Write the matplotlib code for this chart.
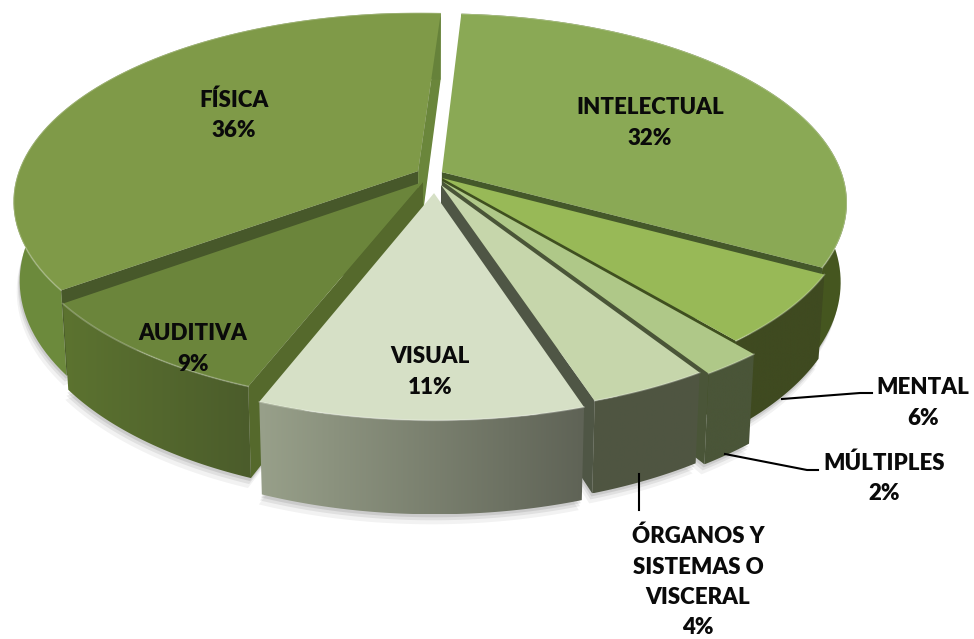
import matplotlib
matplotlib.use("Agg")

import matplotlib.pyplot as plt
from matplotlib.colors import LinearSegmentedColormap
from matplotlib.patches import Polygon
import numpy as np

# Data, clockwise from the top
labels = ["INTELECTUAL", "MENTAL", "MÚLTIPLES", "ÓRGANOS Y\nSISTEMAS O\nVISCERAL", "VISUAL", "AUDITIVA", "FÍSICA"]
values = [32, 6, 2, 4, 11, 9, 36]

# How far each slice is pulled out (pixels at the pie centre) and its radius factor
shift_x = [12, 12, 12, 11, 4, -7, -12]
shift_y = [-10, -4, -1, 3, 11, 0, -11]
radius = [1, 1, 1.05, 1.02, 1, 1, 1]

# Colours per slice
top_colors = ["#8aa955", "#98b957", "#afc888", "#c6d6ab", "#d6e0c6", "#6b853b", "#7f9a48"]
side_left = ["#4d6026", "#3f4a20", "#4a5538", "#4f5642", "#98a08a", "#5c7330", "#6d8b3d"]
side_right = ["#45561f", "#3f4a20", "#4a5538", "#4f5541", "#5f6356", "#4b5c2b", "#66823a"]
wall_start = ["#6a863b", "#3f4f1f", "#3f4f1f", "#4a5a30", "#55692c", "#55692c", "#47582a"]
wall_end = ["#44582a", "#3f4f1f", "#4a5538", "#4f5645", "#4f5645", "#47582a", "#6a863b"]

# Projection of the tilted pie
cx, cy = 430, 182
rx, ry = 403, 187
persp = 0.16
depth = 78
start_deg = 3.5


def project(x, y, z=0.0):
    s = 1 / (1 + persp * y)
    return cx + rx * x * s * (1 - 0.015 * z), cy - ry * y * s + depth * z * s


def gradient_patch(ax, verts, left, right, zorder):
    verts = np.array(verts)
    cmap = LinearSegmentedColormap.from_list("g", [left, right])
    img = ax.imshow(np.linspace(0, 1, 256).reshape(1, -1), cmap=cmap, aspect="auto",
                    extent=(verts[:, 0].min(), verts[:, 0].max(), verts[:, 1].max(), verts[:, 1].min()),
                    zorder=zorder)
    clip = Polygon(verts, closed=True, transform=ax.transData, facecolor="none", edgecolor="none")
    ax.add_patch(clip)
    img.set_clip_path(clip)


fig = plt.figure(figsize=(9.74, 6.39), dpi=100)
ax = fig.add_axes([0, 0, 1, 1])

fracs = np.array(values) / sum(values)
edges = np.radians(start_deg + 360 * np.concatenate([[0], np.cumsum(fracs)]))

# back slices first
order = [6, 0, 1, 5, 2, 3, 4]
z = 2
for i in order:
    t = np.linspace(edges[i], edges[i + 1], 80)
    ox, oy = shift_x[i] / rx, -shift_y[i] / ry
    xs, ys = ox + radius[i] * np.sin(t), oy + radius[i] * np.cos(t)

    tip_top = project(ox, oy, 0)
    tip_bot = project(ox, oy, 1)
    arc_top = [project(a, b, 0) for a, b in zip(xs, ys)]
    arc_bot = [project(a, b, 1) for a, b in zip(xs, ys)]

    # soft shadow under the slice
    for grow, alpha in [(10, 0.05), (6, 0.07), (3, 0.09)]:
        shadow = [(p[0] - grow * 0.3, p[1] + grow) for p in arc_bot]
        ax.add_patch(Polygon(shadow + [tip_bot], closed=True, facecolor="#000000",
                             edgecolor="none", alpha=alpha, zorder=1))

    # cut faces, only the ones that look towards the viewer
    if np.sin(t[0]) < 0:
        ax.add_patch(Polygon([tip_top, arc_top[0], arc_bot[0], tip_bot], closed=True,
                             facecolor=wall_start[i], edgecolor="none", zorder=z))
    if np.sin(t[-1]) > 0:
        ax.add_patch(Polygon([tip_top, arc_top[-1], arc_bot[-1], tip_bot], closed=True,
                             facecolor=wall_end[i], edgecolor="none", zorder=z))
    gradient_patch(ax, arc_top + arc_bot[::-1], side_left[i], side_right[i], z + 0.5)
    ax.add_patch(Polygon([tip_top] + arc_top, closed=True, facecolor=top_colors[i],
                         edgecolor="none", zorder=z + 1))
    # thin light rim along the outer edge
    rim = np.array(arc_top)
    ax.plot(rim[:, 0], rim[:, 1], color="white", alpha=0.25, lw=1.2, zorder=z + 1.5)
    z += 2

# Leader lines
ax.plot([782, 860, 872], [399, 393, 393], color="black", lw=1.5, zorder=30)
ax.plot([725, 807, 818], [454, 470, 470], color="black", lw=1.5, zorder=30)
ax.plot([639, 639], [474, 510], color="black", lw=1.5, zorder=30)

# Labels
label_pos = [(650, 123), (923, 403), (884, 478), (698, 582), (430, 372), (193, 349), (234, 115)]
for lab, val, (px, py) in zip(labels, values, label_pos):
    ax.text(px, py, f"{lab}\n{val}%", ha="center", va="center", fontsize=16,
            fontweight="heavy", family="Lato", color="#0a0a0a", linespacing=1.55, zorder=40)

ax.set_xlim(0, 974)
ax.set_ylim(639, 0)
ax.axis("off")

fig.savefig("out.png", dpi=100)
